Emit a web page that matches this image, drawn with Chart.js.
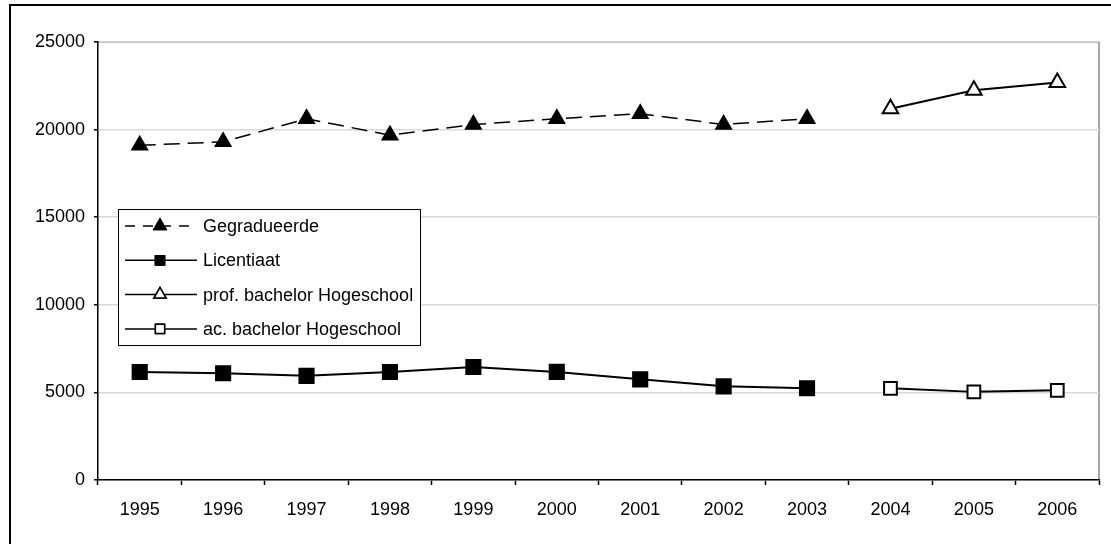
<!DOCTYPE html>
<html>
<head>
<meta charset="utf-8">
<script src="https://cdn.jsdelivr.net/npm/chart.js@4"></script>
<style>
  html, body { margin: 0; padding: 0; background: #fff; }
  #wrap { width: 1111px; height: 544px; }
</style>
</head>
<body>
<div id="wrap"><canvas id="myChart" width="1111" height="544"></canvas></div>
<script>
//data
const years = ['1995','1996','1997','1998','1999','2000','2001','2002','2003','2004','2005','2006'];
const gegradueerde = [19100, 19300, 20620, 19680, 20290, 20620, 20910, 20290, 20620, null, null, null];
const licentiaat = [6165, 6090, 5945, 6165, 6450, 6170, 5745, 5345, 5235, null, null, null];
const profBachelor = [null, null, null, null, null, null, null, null, null, 21190, 22240, 22690];
const acBachelor = [null, null, null, null, null, null, null, null, null, 5230, 5030, 5120];
const yTicks = [0, 5000, 10000, 15000, 20000, 25000];

const font = { family: '"Liberation Sans", Arial, sans-serif', size: 18 };

//frame, plot border and legend drawn by hand
const decor = {
    id: 'decor',
    beforeDraw(chart){
        const ctx = chart.ctx;
        const a = chart.chartArea;
        ctx.save();
        ctx.strokeStyle = '#000';
        ctx.lineWidth = 2;
        ctx.beginPath();
        ctx.moveTo(10, 544);
        ctx.lineTo(10, 5);
        ctx.lineTo(1111, 5);
        ctx.stroke();
        ctx.strokeStyle = '#8c8c8c';
        ctx.lineWidth = 1.5;
        ctx.beginPath();
        ctx.moveTo(a.left, a.top);
        ctx.lineTo(a.right, a.top);
        ctx.lineTo(a.right, a.bottom);
        ctx.stroke();
        ctx.restore();
    },
    afterDraw(chart){
        const ctx = chart.ctx;
        ctx.save();
        ctx.fillStyle = '#fff';
        ctx.fillRect(118, 209, 302, 136);
        ctx.strokeStyle = '#000';
        ctx.lineWidth = 1;
        ctx.strokeRect(118.5, 209.5, 302, 136);
        chart.data.datasets.forEach((ds, i) => {
            const y = 226 + i * 34.3;
            ctx.strokeStyle = '#000';
            ctx.lineWidth = 1.5;
            ctx.setLineDash(ds.borderDash ? [10, 8] : []);
            ctx.beginPath();
            ctx.moveTo(125, y);
            ctx.lineTo(197, y);
            ctx.stroke();
            ctx.setLineDash([]);
            ctx.lineWidth = 1.5;
            Chart.helpers.drawPoint(ctx, {
                pointStyle: ds.pointStyle,
                radius: ds.pointStyle === 'triangle' ? 7 : 6.5,
                rotation: 0,
                borderWidth: 1.5
            }, 160, y);
            ctx.fillStyle = ds.pointBackgroundColor;
            ctx.strokeStyle = '#000';
            ctx.fill();
            ctx.stroke();
            ctx.fillStyle = '#000';
            ctx.font = '18px "Liberation Sans", Arial, sans-serif';
            ctx.textBaseline = 'middle';
            ctx.textAlign = 'left';
            ctx.fillText(ds.label, 203, y + 1);
        });
        ctx.restore();
    }
};

const data = {
    labels: years,
    datasets: [
        {
            label: 'Gegradueerde',
            data: gegradueerde,
            borderColor: '#000',
            borderWidth: 1.5,
            borderDash: [16, 8],
            pointStyle: 'triangle',
            pointRadius: 9,
            pointBackgroundColor: '#000',
            pointBorderColor: '#000'
        },
        {
            label: 'Licentiaat',
            data: licentiaat,
            borderColor: '#000',
            borderWidth: 2,
            pointStyle: 'rect',
            pointRadius: 10,
            pointBackgroundColor: '#000',
            pointBorderColor: '#000'
        },
        {
            label: 'prof. bachelor Hogeschool',
            data: profBachelor,
            borderColor: '#000',
            borderWidth: 2,
            pointStyle: 'triangle',
            pointRadius: 9,
            pointBorderWidth: 2,
            pointBackgroundColor: '#fff',
            pointBorderColor: '#000'
        },
        {
            label: 'ac. bachelor Hogeschool',
            data: acBachelor,
            borderColor: '#000',
            borderWidth: 2,
            pointStyle: 'rect',
            pointRadius: 9,
            pointBorderWidth: 2,
            pointBackgroundColor: '#fff',
            pointBorderColor: '#000'
        }
    ]
};

const config = {
    type: 'line',
    data: data,
    plugins: [decor],
    options: {
        responsive: false,
        animation: false,
        spanGaps: false,
        layout: { padding: { left: 0, right: 9, top: 42, bottom: 0 } },
        plugins: {
            legend: { display: false },
            tooltip: { enabled: false }
        },
        scales: {
            x: {
                type: 'category',
                offset: true,
                grid: {
                    offset: true,
                    drawOnChartArea: false,
                    drawTicks: true,
                    tickLength: 5,
                    tickColor: '#000',
                    tickWidth: 1.5
                },
                border: { color: '#000', width: 1.5 },
                ticks: { color: '#000', font: font, padding: 14, maxRotation: 0, autoSkip: false },
                afterFit(scale){ scale.height = 64; }
            },
            y: {
                min: 0,
                max: 25000,
                afterBuildTicks(scale){ scale.ticks = yTicks.map(v => ({ value: v })); },
                grid: {
                    color: '#d9d9d9',
                    lineWidth: 1.5,
                    drawTicks: true,
                    tickLength: 4,
                    tickColor: '#000',
                    tickWidth: 1.5
                },
                border: { color: '#000', width: 1.5 },
                ticks: {
                    color: '#000',
                    font: font,
                    padding: 9,
                    callback: function(value){ return String(value); }
                },
                afterFit(scale){ scale.width = 98; }
            }
        }
    }
};

const ctx = document.getElementById('myChart').getContext('2d');
const myChart = new Chart(ctx, config);
</script>
</body>
</html>
